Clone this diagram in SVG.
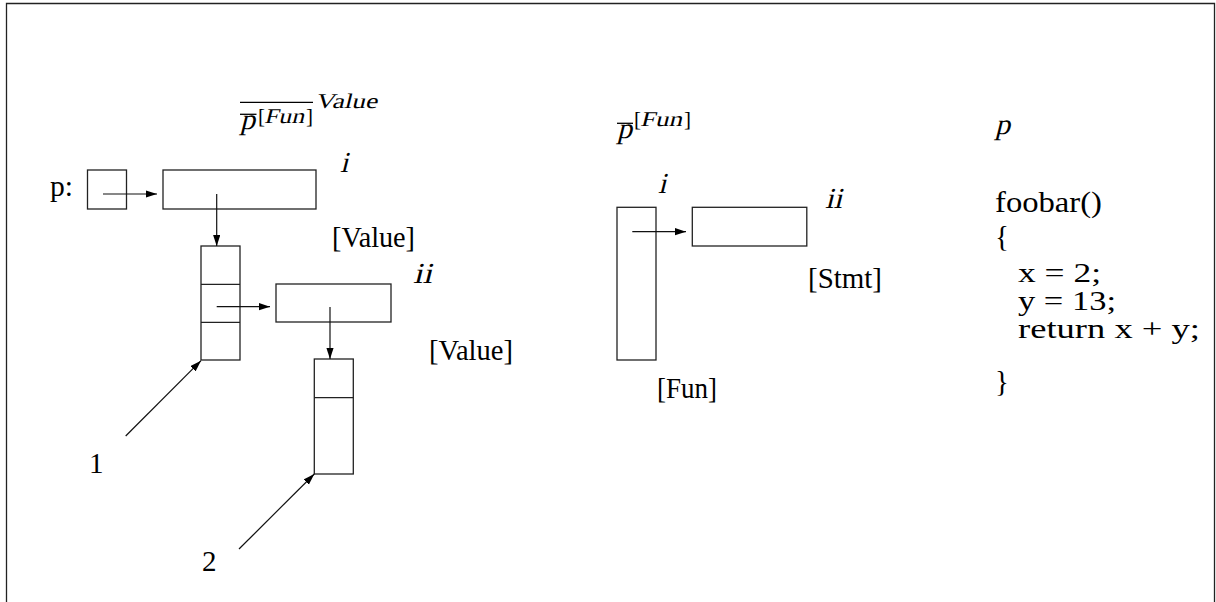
<svg xmlns="http://www.w3.org/2000/svg" width="1216" height="602" viewBox="0 0 1216 602">
<style>
text{font-family:"Liberation Serif","Times New Roman",serif;fill:#000;}
.t{font-size:29px;}
.c{font-size:27.5px;}
.sup{font-size:21px;}
.box{fill:none;stroke:#222;stroke-width:1.3;}
.ln{stroke:#222;stroke-width:1.3;fill:none;}
.arr{stroke:#111;stroke-width:1.2;fill:none;marker-end:url(#ah);}
.bar{stroke:#000;stroke-width:1.3;}
</style>
<defs>
<marker id="ah" markerUnits="userSpaceOnUse" markerWidth="12" markerHeight="8" refX="11.5" refY="3.75" orient="auto">
<path d="M0,0 L11.5,3.75 L0,7.5 z" fill="#000"/>
</marker>
</defs>
<rect width="1216" height="602" fill="#fff"/>
<path d="M6.5,602 V3.5 H1214.5 V602" class="ln" stroke-width="1.4"/>

<!-- left panel header -->
<g id="hdr-left">
<line class="bar" x1="240" y1="102.3" x2="313" y2="102.3"/>
<line class="bar" x1="240" y1="114.3" x2="256.5" y2="114.3"/>
<text class="t" transform="translate(240,128.5) skewX(-14)" textLength="15" lengthAdjust="spacingAndGlyphs">p</text>
<text class="sup" x="258" y="123.3">[</text>
<text class="sup" transform="translate(264,123.3) skewX(-14)" textLength="40" lengthAdjust="spacingAndGlyphs">Fun</text>
<text class="sup" x="306" y="123.3">]</text>
<text class="sup" transform="translate(315,108.3) skewX(-14)" textLength="62" lengthAdjust="spacingAndGlyphs">Value</text>
</g>

<g id="label-p"><text class="t" x="50" y="196" textLength="23" lengthAdjust="spacingAndGlyphs">p:</text></g>
<g id="node-p"><rect class="box" x="87.5" y="170" width="39" height="39"/></g>
<g id="node-i">
<rect class="box" x="163" y="170" width="153" height="39"/>
<text class="t" transform="translate(340,172) skewX(-14)">i</text>
<text class="t" x="332" y="247" textLength="83" lengthAdjust="spacingAndGlyphs">[Value]</text>
</g>
<g id="node-stack1">
<rect class="box" x="201" y="246" width="39" height="114"/>
<line class="ln" x1="201" y1="284.3" x2="240" y2="284.3"/>
<line class="ln" x1="201" y1="322.3" x2="240" y2="322.3"/>
</g>
<g id="node-ii">
<rect class="box" x="276" y="284" width="115" height="38"/>
<text class="t" transform="translate(413,283) skewX(-14)" textLength="19" lengthAdjust="spacingAndGlyphs">ii</text>
<text class="t" x="429" y="360" textLength="84" lengthAdjust="spacingAndGlyphs">[Value]</text>
</g>
<g id="node-stack2">
<rect class="box" x="314.3" y="359" width="39" height="115"/>
<line class="ln" x1="314.3" y1="397.7" x2="353.3" y2="397.7"/>
</g>
<g id="label-1"><text class="t" x="89" y="473">1</text></g>
<g id="label-2"><text class="t" x="202" y="571">2</text></g>

<!-- middle panel -->
<g id="hdr-mid">
<line class="bar" x1="617" y1="123.3" x2="633" y2="123.3"/>
<text class="t" transform="translate(617,137.5) skewX(-14)" textLength="15" lengthAdjust="spacingAndGlyphs">p</text>
<text class="sup" x="634" y="125.5">[</text>
<text class="sup" transform="translate(640,125.5) skewX(-14)" textLength="42" lengthAdjust="spacingAndGlyphs">Fun</text>
<text class="sup" x="684" y="125.5">]</text>
</g>
<g id="node-fun">
<rect class="box" x="617" y="207.3" width="39" height="152.7"/>
<text class="t" transform="translate(658,193) skewX(-14)">i</text>
<text class="t" x="657" y="398" textLength="60" lengthAdjust="spacingAndGlyphs">[Fun]</text>
</g>
<g id="node-stmt">
<rect class="box" x="692.3" y="207.3" width="114.5" height="38.7"/>
<text class="t" transform="translate(825,208) skewX(-14)" textLength="17" lengthAdjust="spacingAndGlyphs">ii</text>
<text class="t" x="808" y="288" textLength="74" lengthAdjust="spacingAndGlyphs">[Stmt]</text>
</g>

<!-- right panel -->
<g id="code">
<text class="t" transform="translate(995,134) skewX(-14)" textLength="15" lengthAdjust="spacingAndGlyphs">p</text>
<text class="t" x="995" y="212" textLength="107" lengthAdjust="spacingAndGlyphs">foobar()</text>
<text class="t" x="995" y="246" font-size="31">{</text>
<text class="c" x="1018" y="282" textLength="83" lengthAdjust="spacingAndGlyphs">x = 2;</text>
<text class="c" x="1018" y="310" textLength="98" lengthAdjust="spacingAndGlyphs">y = 13;</text>
<text class="c" x="1018" y="338" textLength="182" lengthAdjust="spacingAndGlyphs">return x + y;</text>
<text class="t" x="995" y="391" font-size="31">}</text>
</g>

<g id="connectors">
<line class="arr" x1="103" y1="194" x2="157" y2="194"/>
<line class="arr" x1="216.7" y1="194" x2="216.7" y2="246"/>
<line class="arr" x1="216.7" y1="306.7" x2="270" y2="306.7"/>
<line class="arr" x1="330" y1="307" x2="330" y2="359"/>
<line class="arr" x1="125.7" y1="436" x2="201" y2="360.7"/>
<line class="arr" x1="239" y1="549" x2="314.3" y2="474"/>
<line class="arr" x1="632.3" y1="231.7" x2="686" y2="231.7"/>
</g>
</svg>
